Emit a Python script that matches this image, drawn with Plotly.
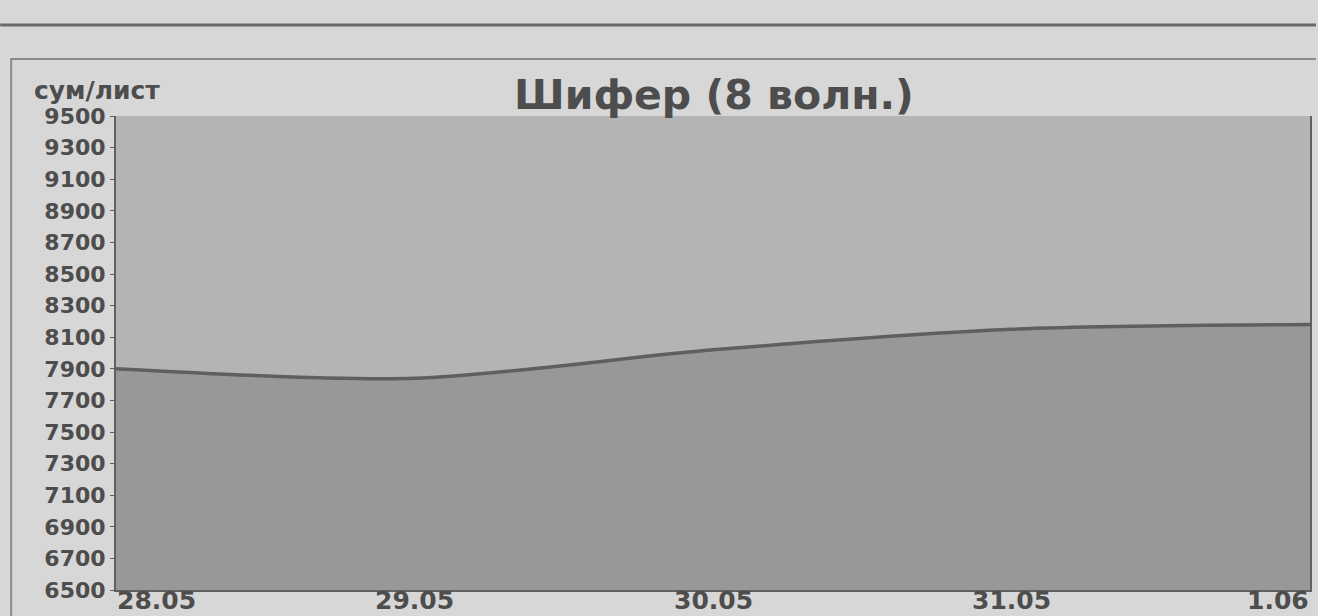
import plotly.graph_objects as go

dates = ["28.05", "29.05", "30.05", "31.05", "1.06"]
prices = [7900, 7840, 8020, 8150, 8180]
y_ticks = [6500, 6700, 6900, 7100, 7300, 7500, 7700, 7900, 8100, 8300, 8500, 8700, 8900, 9100, 9300, 9500]
title_text = "Шифер (8 волн.)"
unit_text = "сум/лист"

W, H = 1318, 616
ML, MR, MT, MB = 116, 6, 116, 26
pw, ph = W - ML - MR, H - MT - MB


def px(x):
    return (x - ML) / pw


def py(y):
    return 1 - (y - MT) / ph


x_idx = list(range(len(dates)))
font_main = "DejaVu Sans, Verdana, sans-serif"
txt_color = "#4d4d4d"

fig = go.Figure()
fig.add_trace(go.Scatter(
    x=x_idx, y=prices, mode="lines",
    line=dict(color="#5f5f5f", width=3.5, shape="spline", smoothing=0.8),
    fill="tozeroy", fillcolor="#989898",
    hoverinfo="skip", showlegend=False,
))

fig.update_layout(
    width=W, height=H,
    margin=dict(l=ML, r=MR, t=MT, b=MB),
    paper_bgcolor="#d7d7d7",
    plot_bgcolor="#b4b4b4",
    showlegend=False,
    xaxis=dict(range=[0, len(dates) - 1], showticklabels=False, showgrid=False,
               zeroline=False, showline=True, linecolor="#606060", linewidth=2,
               fixedrange=True),
    yaxis=dict(range=[y_ticks[0], y_ticks[-1]], tickmode="array", tickvals=y_ticks,
               ticktext=[str(v) for v in y_ticks], showgrid=False, zeroline=False,
               showline=True, linecolor="#606060", linewidth=2, mirror=True,
               ticks="outside", ticklen=4, tickcolor="#606060",
               tickfont=dict(family=font_main, size=22, color=txt_color, weight="bold"),
               fixedrange=True),
)

# x tick labels (first left-aligned, last right-aligned), kept inside the page
for i, d in enumerate(dates):
    if i == 0:
        anchor = "left"
    elif i == len(dates) - 1:
        anchor = "right"
    else:
        anchor = "center"
    fig.add_annotation(x=i, y=py(H), xref="x", yref="paper", text=f"<b>{d}</b>",
                       showarrow=False, xanchor=anchor, yanchor="bottom", borderpad=0,
                       font=dict(family=font_main, size=25, color=txt_color))

# title and unit label
fig.add_annotation(x=px(715), y=py(95), xref="paper", yref="paper", text=f"<b>{title_text}</b>",
                   showarrow=False, xanchor="center", yanchor="middle",
                   font=dict(family=font_main, size=41, color=txt_color))
fig.add_annotation(x=px(32), y=py(90), xref="paper", yref="paper", text=f"<b>{unit_text}</b>",
                   showarrow=False, xanchor="left", yanchor="middle",
                   font=dict(family=font_main, size=25, color=txt_color))

# decorative page frame lines
fig.add_shape(type="line", xref="paper", yref="paper", x0=px(0), x1=px(W), y0=py(25), y1=py(25),
              line=dict(color="#6a6a6a", width=3))
fig.add_shape(type="line", xref="paper", yref="paper", x0=px(10), x1=px(W), y0=py(59), y1=py(59),
              line=dict(color="#8a8a8a", width=2))
fig.add_shape(type="line", xref="paper", yref="paper", x0=px(11), x1=px(11), y0=py(59), y1=py(H),
              line=dict(color="#8a8a8a", width=2))

fig.write_html("out.html", config={"displayModeBar": False},
               post_script="document.body.style.margin='0';document.body.style.background='#d7d7d7';document.body.style.overflow='hidden';")
